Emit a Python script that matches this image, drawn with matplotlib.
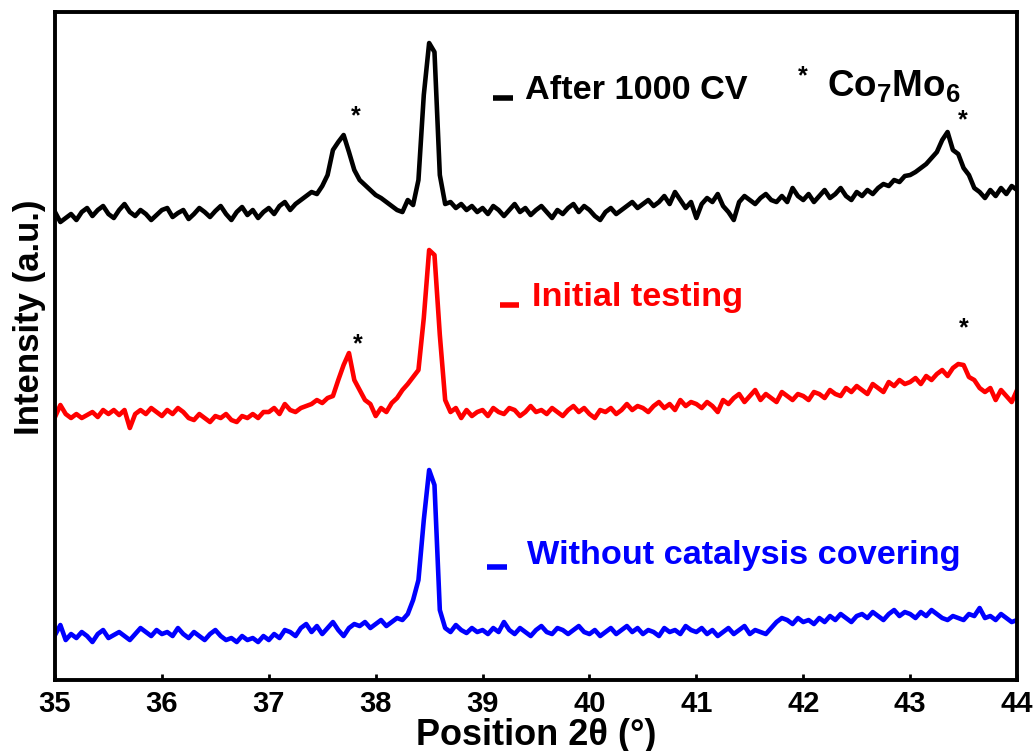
import numpy as np
import matplotlib
matplotlib.use("Agg")
import matplotlib.pyplot as plt

plt.rcParams['font.family'] = ['Liberation Sans', 'DejaVu Sans']
plt.rcParams['mathtext.default'] = 'regular'

# 2-theta grid (degrees), 0.05 deg step from 35 to 44
two_theta_start = 35.0
two_theta_step = 0.05

after_cv = [
    468, 458, 462, 466, 460, 468, 472, 464, 470, 474, 466, 462, 470, 476, 468, 464, 470, 466, 460, 465,
    470, 472, 463, 467, 470, 461, 466, 472, 468, 463, 469, 474, 466, 460, 468, 473, 465, 470, 462, 468,
    472, 466, 474, 478, 470, 476, 480, 484, 488, 486, 494, 505, 530, 538, 545, 528, 510, 500, 495, 490,
    485, 482, 478, 474, 470, 468, 480, 475, 500, 585, 637, 628, 505, 476, 478, 472, 476, 470, 474, 468,
    472, 466, 474, 470, 464, 470, 476, 468, 472, 465, 470, 474, 468, 462, 470, 466, 472, 476, 468, 474,
    470, 464, 460, 468, 472, 466, 470, 474, 478, 472, 476, 480, 474, 478, 484, 476, 488, 480, 472, 478,
    462, 476, 482, 478, 486, 474, 468, 460, 478, 484, 480, 476, 482, 486, 480, 478, 484, 478, 492, 484,
    480, 486, 478, 484, 490, 482, 486, 492, 484, 480, 488, 484, 490, 486, 492, 496, 494, 500, 498, 504,
    505, 508, 512, 516, 522, 528, 540, 548, 530, 526, 512, 505, 492, 488, 482, 490, 484, 492, 486, 494,
    490,
]

initial = [
    263, 275, 266, 262, 266, 262, 265, 268, 263, 270, 266, 270, 265, 270, 252, 266, 270, 266, 272, 268,
    264, 270, 266, 272, 268, 262, 260, 266, 262, 258, 264, 262, 266, 260, 258, 264, 262, 266, 262, 268,
    268, 272, 266, 276, 270, 268, 272, 274, 276, 280, 277, 282, 284, 300, 315, 327, 300, 290, 280, 276,
    264, 272, 268, 277, 282, 290, 296, 303, 310, 362, 430, 425, 345, 280, 268, 272, 262, 270, 264, 268,
    270, 264, 272, 268, 266, 272, 270, 264, 268, 274, 268, 270, 266, 272, 268, 264, 270, 274, 268, 272,
    266, 262, 270, 268, 272, 266, 270, 276, 270, 274, 272, 268, 274, 278, 272, 276, 270, 280, 274, 278,
    276, 272, 278, 274, 268, 280, 276, 282, 286, 278, 284, 290, 280, 286, 282, 278, 288, 284, 280, 286,
    284, 280, 288, 286, 282, 290, 286, 284, 292, 288, 294, 290, 286, 296, 292, 288, 298, 294, 300, 296,
    298, 302, 296, 304, 300, 306, 310, 304, 312, 316, 315, 303, 300, 292, 288, 292, 280, 290, 284, 278,
    290,
]

without_cat = [
    45, 55, 40, 46, 42, 48, 44, 38, 46, 50, 42, 45, 48, 44, 40, 46, 52, 48, 44, 50,
    46, 48, 44, 52, 46, 42, 48, 44, 40, 46, 50, 44, 40, 42, 38, 44, 40, 42, 38, 44,
    40, 46, 42, 50, 48, 44, 52, 56, 48, 54, 46, 52, 58, 50, 44, 52, 56, 54, 58, 52,
    56, 60, 54, 58, 62, 60, 66, 80, 100, 160, 210, 195, 70, 52, 48, 55, 50, 47, 52, 48,
    50, 46, 52, 48, 58, 50, 46, 52, 48, 44, 50, 54, 48, 46, 52, 50, 46, 50, 54, 48,
    46, 50, 44, 48, 52, 46, 50, 54, 48, 52, 46, 50, 48, 44, 52, 48, 50, 46, 54, 50,
    48, 52, 46, 50, 44, 48, 52, 46, 50, 54, 46, 50, 48, 46, 52, 58, 62, 60, 56, 62,
    58, 60, 56, 62, 58, 64, 60, 66, 62, 58, 64, 66, 62, 68, 64, 60, 66, 70, 64, 68,
    66, 62, 68, 64, 70, 66, 62, 60, 64, 62, 60, 66, 64, 72, 62, 64, 60, 66, 62, 58,
    60,
]

series_labels = ["After 1000 CV", "Initial testing", "Without catalysis covering"]
series_colors = ["black", "red", "blue"]
x_ticks = [35, 36, 37, 38, 39, 40, 41, 42, 43, 44]

two_theta = two_theta_start + two_theta_step * np.arange(len(after_cv))

fig = plt.figure(figsize=(10.36, 7.51), dpi=100)
ax = fig.add_axes([0.0531, 0.0945, 0.9286, 0.8895])

for y, c in zip([after_cv, initial, without_cat], series_colors):
    ax.plot(two_theta, y, color=c, lw=3.3, solid_joinstyle='round')

ax.set_xlim(35, 44)
ax.set_ylim(0, 668)
ax.set_xticks(x_ticks)
ax.set_xticklabels([str(t) for t in x_ticks], fontsize=21, fontweight='bold')
ax.set_yticks([])
ax.tick_params(axis='x', direction='in', length=4, width=2, pad=7)
for s in ax.spines.values():
    s.set_linewidth(2.8)

ax.set_xlabel("Position 2\u03b8 (\u00b0)", fontsize=26, fontweight='bold', labelpad=0)
ax.set_ylabel("Intensity (a.u.)", fontsize=25, fontweight='bold')
ax.yaxis.set_label_coords(-0.009, 0.543)

# Labels with short dash handles
label_pos = [(39.10, 39.28, 582, 39.40, 590),
             (39.16, 39.34, 375, 39.46, 383),
             (39.04, 39.23, 113, 39.42, 125)]
for (x0, x1, yd, xt, yt), lab, c in zip(label_pos, series_labels, series_colors):
    ax.plot([x0, x1], [yd, yd], color=c, lw=4, solid_capstyle='butt')
    ax.text(xt, yt, lab, color=c, fontsize=24.7, fontweight='bold', ha='left', va='center')

# Asterisks marking Co7Mo6
for xs, ys in [(37.81, 564), (43.49, 560), (37.83, 336), (43.50, 352)]:
    ax.text(xs, ys, "*", fontsize=18, fontweight='bold', ha='center', va='center')
ax.text(42.0, 604, "*", fontsize=18, fontweight='bold', ha='center', va='center')
ax.text(42.22, 594, "Co$_7$Mo$_6$", fontsize=26.5, fontweight='bold', ha='left', va='center')

fig.savefig("out.png", dpi=100)
